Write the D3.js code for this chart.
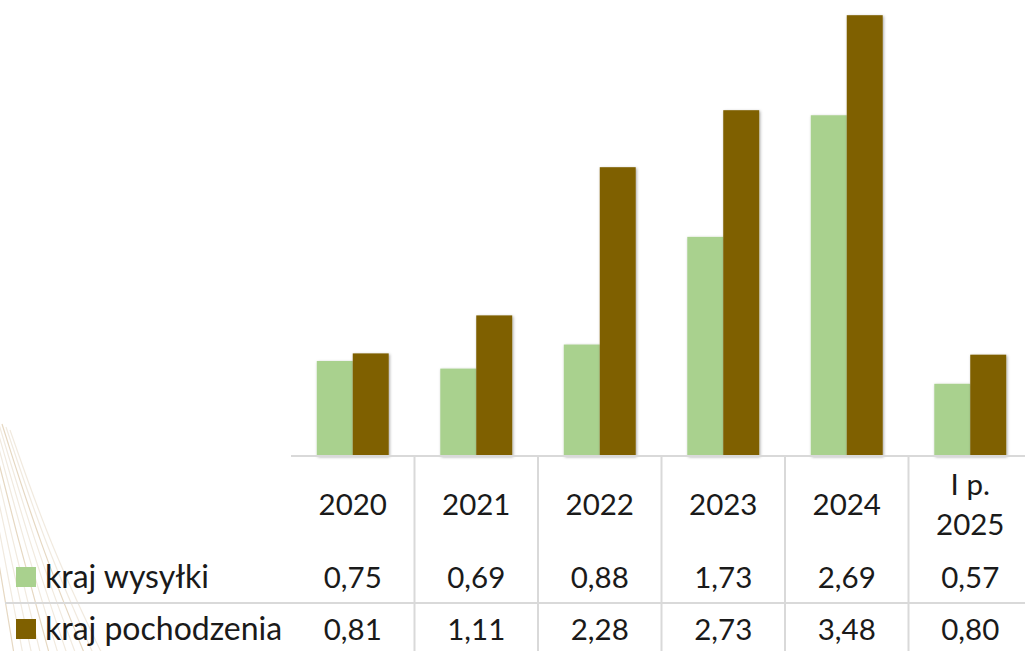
<!DOCTYPE html>
<html>
<head>
<meta charset="utf-8">
<script src="https://cdn.jsdelivr.net/npm/d3@7"></script>
<style>
  html, body { margin: 0; padding: 0; background: #ffffff; }
  svg { display: block; }
  text { font-family: Lato, "Open Sans", "Liberation Sans", sans-serif; fill: #1a1a1a; }
</style>
</head>
<body>
<svg id="chart" width="1025" height="651"></svg>
<script>
// ---- data ----
const categories = ["2020", "2021", "2022", "2023", "2024", "I p. 2025"];
const categoryLines = [["2020"], ["2021"], ["2022"], ["2023"], ["2024"], ["I p.", "2025"]];
const seriesNames = ["kraj wysyłki", "kraj pochodzenia"];
const krajWysylki = [0.75, 0.69, 0.88, 1.73, 2.69, 0.57];
const krajPochodzenia = [0.81, 1.11, 2.28, 2.73, 3.48, 0.80];
const seriesColors = ["#a9d18e", "#7f6000"];

const seriesValues = [krajWysylki, krajPochodzenia];

const svg = d3.select("#chart");
const W = 1025, H = 651;

// layout
const plotLeft = 291, plotRight = 1032;
const baseY = 456, plotTop = 0;
const rowSepY = 603;
const gridColor = "#d9d9d9";

// decorative faint lines bottom-left (background ornament)
const deco = svg.append("g").attr("fill", "none");
const decoLine = d3.line().curve(d3.curveBasis);
for (let i = 0; i < 11; i++) {
  const x0 = -30 + i * 4, y0 = 400 + i * 3;
  deco.append("path")
    .attr("d", decoLine([[x0, y0], [x0 + 22 + i * 2, y0 + 120], [x0 + 45 + i * 5, 660]]))
    .attr("stroke", i % 4 === 0 ? "#e6d8c2" : "#f1eadf")
    .attr("stroke-width", 1.2);
}

// scales
const x = d3.scaleBand().domain(categories).range([plotLeft, plotRight]).paddingInner(0).paddingOuter(0);
const xs = d3.scaleBand().domain(seriesNames).range([0, x.bandwidth()]).paddingInner(0).paddingOuter(0.717);
const y = d3.scaleLinear().domain([0, 3.6]).range([baseY, plotTop]);

// shadow filter
const defs = svg.append("defs");
const f = defs.append("filter").attr("id", "shadow").attr("x", "-20%").attr("y", "-5%").attr("width", "140%").attr("height", "110%");
f.append("feDropShadow").attr("dx", 1).attr("dy", 1).attr("stdDeviation", 1.8)
  .attr("flood-color", "#000").attr("flood-opacity", 0.35);

// bars
const bars = svg.append("g");
seriesNames.forEach((s, si) => {
  bars.selectAll(null)
    .data(categories.map((c, i) => ({ c, v: seriesValues[si][i] })))
    .join("rect")
    .attr("x", d => x(d.c) + xs(s))
    .attr("y", d => y(d.v))
    .attr("width", xs.bandwidth())
    .attr("height", d => baseY - y(d.v))
    .attr("fill", seriesColors[si])
    .attr("filter", "url(#shadow)");
});

// table grid
const grid = svg.append("g").attr("stroke", gridColor).attr("stroke-width", 2);
grid.append("line").attr("x1", plotLeft).attr("x2", W).attr("y1", baseY).attr("y2", baseY);
grid.append("line").attr("x1", 5).attr("x2", W).attr("y1", rowSepY).attr("y2", rowSepY);
categories.slice(1).forEach(c => {
  grid.append("line").attr("x1", x(c)).attr("x2", x(c)).attr("y1", baseY).attr("y2", H);
});

// category labels
const fs = 29.5;
const catG = svg.append("g").attr("text-anchor", "middle").style("font-size", fs + "px");
categories.forEach((c, i) => {
  const lines = categoryLines[i];
  const cx = x(c) + x.bandwidth() / 2;
  if (lines.length === 1) {
    catG.append("text").attr("x", cx).attr("y", 515).text(lines[0]);
  } else {
    lines.forEach((ln, j) => {
      catG.append("text").attr("x", cx).attr("y", 495 + j * 40).text(ln);
    });
  }
});

// values
const fmt = v => d3.format(".2f")(v).replace(".", ",");
const rowBase = [588, 640];
seriesNames.forEach((s, si) => {
  svg.append("g").attr("text-anchor", "middle").style("font-size", fs + "px")
    .selectAll("text")
    .data(categories.map((c, i) => ({ c, v: seriesValues[si][i] })))
    .join("text")
    .attr("x", d => x(d.c) + x.bandwidth() / 2)
    .attr("y", rowBase[si])
    .text(d => fmt(d.v));

  // legend key
  svg.append("rect").attr("x", 16).attr("y", rowBase[si] - 21).attr("width", 20).attr("height", 20)
    .attr("fill", seriesColors[si]);
  svg.append("text").attr("x", 45).attr("y", rowBase[si]).style("font-size", "32px").text(s);
});
</script>
</body>
</html>
